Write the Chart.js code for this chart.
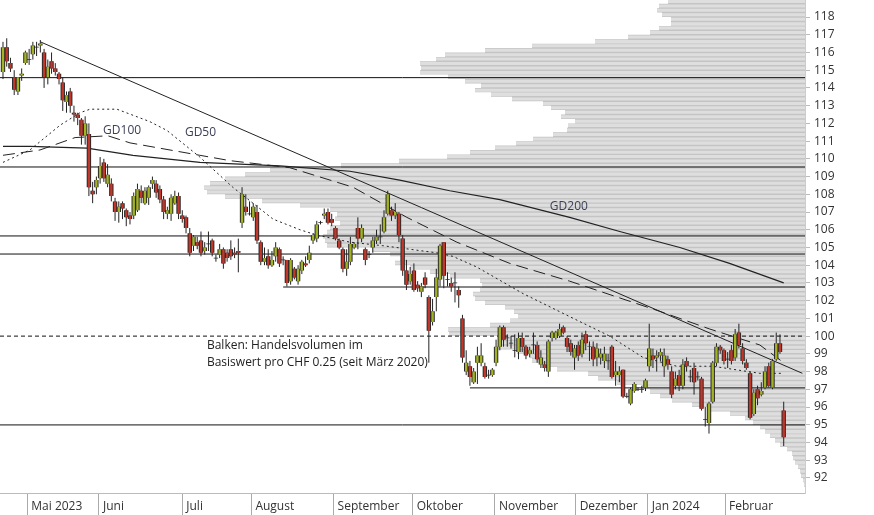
<!DOCTYPE html>
<html><head><meta charset="utf-8">
<script src="https://cdn.jsdelivr.net/npm/chart.js@4.4.1/dist/chart.umd.min.js"></script>
<style>html,body{margin:0;padding:0;background:#fff}#wrap{width:874px;height:515px}</style>
</head><body><div id="wrap"><canvas id="c" width="874" height="515"></canvas></div>
<script>
const opens=[114.9,116.3,115.4,114.6,113.8,114.7,115.4,115.6,115.9,116.3,116.4,116.0,114.6,115.5,115.1,114.8,114.3,113.2,113.8,112.6,112.5,112.2,111.3,111.4,108.2,108.4,108.9,109.8,108.6,108.6,107.6,107.0,107.5,107.1,106.8,106.8,107.1,108.2,107.5,107.8,108.6,108.6,108.3,107.7,106.9,106.9,107.5,107.9,106.8,106.7,105.8,105.1,
105.3,105.4,104.8,105.2,105.4,104.4,104.6,104.9,104.7,104.9,104.7,104.8,106.4,107.3,106.9,106.7,107.0,105.3,104.2,104.5,104.0,104.5,104.9,104.3,104.3,103.1,103.8,103.1,103.7,104.1,104.3,105.4,105.5,106.4,106.8,107.0,106.6,106.1,105.4,104.9,103.8,104.2,105.0,106.1,105.5,104.9,104.6,105.0,105.4,105.6,105.9,106.9,107.1,106.8,106.9,105.5,
103.7,103.1,103.7,102.9,102.5,103.3,102.2,100.8,102.2,103.2,105.3,103.2,103.0,103.0,102.6,101.0,98.0,98.3,97.4,98.5,98.5,98.3,97.8,97.8,98.5,99.4,100.5,99.9,99.6,99.2,99.1,99.9,99.4,99.0,99.5,99.5,98.4,98.4,98.0,99.9,99.9,100.0,100.5,99.9,99.6,98.8,99.5,99.0,100.1,99.4,99.4,98.8,
98.8,98.6,98.6,99.4,97.8,97.8,98.1,96.6,96.2,96.9,97.0,97.0,97.1,98.3,98.9,98.8,98.9,98.3,98.7,98.0,97.2,97.8,97.2,98.6,97.7,98.2,97.7,97.6,95.3,95.1,96.3,98.5,99.4,99.2,98.7,99.2,98.8,100.2,99.3,98.5,97.9,95.6,97.0,96.7,97.1,98.3,97.1,98.7,99.6,95.8];
const highs=[116.6,116.8,115.7,115.0,114.6,115.1,116.1,116.2,116.6,116.6,116.7,116.2,115.6,116.0,115.4,114.9,114.6,113.8,114.0,113.0,112.6,112.3,112.4,112.0,108.7,109.0,110.1,110.0,109.7,108.9,107.8,107.6,107.6,107.2,107.0,108.1,108.6,108.5,108.4,108.5,109.0,108.8,108.5,107.9,107.3,108.0,108.2,108.1,107.1,106.8,106.1,105.7,
105.6,105.9,105.3,105.9,105.5,104.6,105.2,105.0,104.9,105.4,105.0,105.5,108.4,108.0,107.6,107.5,107.4,105.4,105.0,104.9,104.8,105.3,105.0,104.5,104.3,104.4,103.9,104.0,104.3,104.5,105.1,105.8,106.5,106.5,107.2,107.2,106.9,106.2,105.5,105.0,104.9,105.6,105.3,106.7,106.3,105.0,104.8,105.6,106.0,106.3,107.1,108.2,107.3,107.5,107.0,105.7,
104.3,103.9,104.1,103.1,103.0,103.6,102.3,102.1,103.8,105.2,105.3,103.6,103.3,103.6,102.8,101.2,99.2,98.6,98.2,99.4,99.6,98.5,98.1,98.2,99.8,100.6,100.6,100.1,100.0,100.1,100.2,100.2,99.5,99.4,100.2,99.7,99.2,98.6,99.8,100.3,100.3,100.7,100.6,100.0,99.8,99.5,99.7,100.2,100.3,99.7,99.7,99.6,
99.3,99.4,99.0,99.5,98.6,98.3,98.1,96.8,97.1,97.4,97.1,97.2,97.6,100.7,99.3,99.2,99.3,99.3,98.9,98.3,98.0,98.1,98.7,98.8,98.1,98.5,98.0,97.7,96.0,96.3,98.6,99.6,99.5,99.3,99.1,99.5,100.4,100.7,99.6,98.7,98.0,97.0,97.2,97.4,98.3,98.5,98.7,100.2,100.1,96.3];
const lows=[114.5,115.2,114.9,113.6,113.6,114.4,115.3,115.3,115.6,115.8,116.0,114.0,114.2,114.8,114.7,114.2,112.7,112.6,112.6,112.1,111.9,110.8,110.8,107.9,107.5,108.0,108.6,108.7,108.4,107.6,106.5,106.4,106.6,106.2,106.3,106.6,107.0,107.5,107.4,107.4,108.3,107.8,107.5,106.6,106.6,106.5,107.4,106.6,106.4,105.8,104.5,104.8,
104.9,104.5,104.6,104.8,104.5,104.2,104.4,103.8,104.2,104.3,104.4,103.6,106.1,106.8,106.8,106.5,105.2,104.0,104.0,103.8,103.9,104.2,103.9,104.0,102.8,102.9,103.2,102.9,103.5,103.9,104.1,105.2,105.3,106.3,106.6,106.3,106.2,105.4,104.9,103.6,103.4,104.0,104.9,104.9,105.3,104.0,104.4,104.7,105.2,105.2,105.8,106.8,106.5,106.6,105.3,103.4,
102.6,102.9,102.5,102.5,102.2,102.7,98.5,100.6,101.4,102.8,102.7,102.8,102.5,101.9,101.6,98.5,97.8,97.2,97.3,97.3,98.3,97.6,97.6,97.7,98.3,99.2,99.4,99.4,99.3,98.8,98.7,99.1,98.7,98.8,99.0,98.5,98.2,98.0,97.7,99.7,99.8,99.9,100.1,99.1,98.9,98.1,98.6,98.8,99.2,98.6,98.3,98.3,
98.4,98.2,98.1,97.6,97.2,97.4,96.5,96.5,96.1,96.8,96.9,96.8,96.9,98.0,98.2,98.0,98.6,97.7,98.1,96.5,97.0,96.9,97.0,98.0,97.4,96.7,97.5,95.8,94.9,94.5,96.2,98.3,99.0,98.4,98.2,98.4,98.6,99.3,98.4,98.1,95.3,95.5,96.1,96.6,97.0,97.1,97.0,98.6,99.0,93.8];
const closes=[116.3,115.5,115.1,113.9,114.6,114.8,116.0,115.6,116.4,116.3,116.5,114.6,115.2,115.1,114.9,114.5,113.3,113.6,113.0,112.5,112.3,111.3,112.0,108.4,108.0,108.8,109.6,108.9,109.1,107.9,107.0,107.3,107.2,106.7,106.6,107.9,108.3,107.8,108.2,108.4,108.8,108.1,107.7,107.0,107.1,107.8,107.9,106.9,106.6,106.1,104.7,105.6,
105.1,104.7,105.0,105.2,104.7,104.4,104.9,104.1,104.4,104.5,104.6,104.7,108.0,107.0,106.9,107.3,105.4,104.2,104.4,104.0,104.3,105.0,104.1,104.3,103.0,104.3,103.3,103.8,104.2,104.0,104.7,105.7,106.3,106.4,106.9,106.4,106.4,105.5,105.0,103.8,104.2,105.2,105.2,105.5,106.1,104.3,104.6,105.4,105.6,105.6,106.7,108.0,106.8,107.0,105.7,103.7,
102.9,103.5,102.6,102.7,102.8,102.9,100.3,101.4,103.3,105.1,103.4,103.2,102.8,103.0,102.3,98.8,98.5,97.7,98.0,98.9,98.9,97.7,97.8,98.1,99.4,100.5,99.8,99.9,99.6,99.2,99.9,99.4,98.9,99.2,99.5,98.7,98.8,98.2,99.7,100.2,100.2,100.4,100.2,99.4,99.1,99.3,98.9,99.8,99.6,99.4,98.7,99.3,
99.0,99.0,98.6,97.7,98.0,98.0,96.6,96.6,97.0,97.3,97.0,97.0,97.5,99.3,98.7,98.9,99.1,98.9,98.4,96.7,97.6,97.2,98.4,98.3,97.7,97.4,97.7,95.9,95.3,96.2,98.5,99.4,99.2,98.6,98.7,98.6,100.1,99.5,98.6,98.2,95.4,96.8,96.5,96.9,98.0,97.2,98.6,99.6,99.1,94.3];

const monthPos=[6.5,25.7,48,66.5,88.5,109.7,131.7,153.3,172.6,193.3];
const monthLabels=['Mai 2023','Juni','Juli','August','September','Oktober','November','Dezember','Jan 2024','Februar'];

const profilePrices=[118.875,118.625,118.375,118.125,117.875,117.625,117.375,117.125,116.875,116.625,116.375,116.125,115.875,115.625,115.375,115.125,114.875,114.625,114.375,114.125,113.875,113.625,113.375,113.125,112.875,112.625,112.375,112.125,111.875,111.625,111.375,111.125,110.875,110.625,110.375,110.125,109.875,109.625,109.375,109.125,108.875,108.625,108.375,108.125,107.875,107.625,107.375,107.125,106.875,106.625,106.375,106.125,105.875,105.625,105.375,105.125,104.875,104.625,104.375,104.125,103.875,103.625,103.375,103.125,102.875,102.625,102.375,102.125,101.875,101.625,101.375,101.125,100.875,100.625,100.375,100.125,99.875,99.625,99.375,99.125,98.875,98.625,98.375,98.125,97.875,97.625,97.375,97.125,96.875,96.625,96.375,96.125,95.875,95.625,95.375,95.125,94.875,94.625,94.375,94.125,93.875,93.625,93.375,93.125,92.875,92.625,92.375,92.125,91.875,91.625];
const profileVolume=[137,146,148,143,134,134,146,155,177,210,273,320,360,369,385,384,385,357,340,324,330,314,293,262,254,240,244,230,237,238,252,272,289,310,335,358,406,464,535,560,580,595,601,598,580,543,505,475,468,470,465,475,478,482,480,478,433,415,405,410,395,375,355,325,323,325,332,330,320,300,291,287,295,315,357,356,305,305,307,288,275,273,262,248,217,207,188,163,155,145,133,113,97,75,60,52,45,40,35,30,25,18,13,12,10,7,5,4,2,1];

const hLevels=[114.58,109.54,105.65,104.63,102.77,97.08,94.99];
const hStart=[-0.8,-0.8,-0.8,-0.8,75,125,-0.8];
const dashLevel=100.0;

const trendIdx=[10,214];
const trendVal=[116.6,97.9];
const gd200Idx=[0,7.2,22.5,34.8,52.7,74.1,92.9,106.2,119.6,133,151.7,165.1,181.2,194.5,209];
const gd200Val=[110.7,110.7,110.6,110.2,109.8,109.6,109.3,108.8,108.2,107.7,106.7,105.9,105.0,104.1,103.0];
const gd100Idx=[0,9.9,19.3,28.1,34,42,52.7,60.7,68.8,76.8,93.7,108.1,121.5,135.7,151.7,175.8,189.2,202.6,209];
const gd100Val=[110.2,110.5,111.2,111.3,110.9,110.6,110.2,109.9,109.7,109.5,108.4,106.7,105.3,104.1,103.1,101.4,100.4,99.5,98.5];
const gd50Idx=[0,7.2,15.3,20.6,23.3,30.5,39.3,43.9,52.7,61.5,72.3,79.5,84,92.9,101.7,116.1,120.4,126.8,139.2,151.7,162.4,171.3,180.4,190,202.6,209];
const gd50Val=[109.8,110.5,111.9,112.6,112.8,112.8,112.1,111.6,110.1,108.4,106.6,106.0,105.7,105.3,105.1,104.7,104.5,103.9,102.4,101.1,100.0,98.8,98.3,98.3,97.9,97.9];

const XMIN=-0.8, XMAX=214.7, YMIN=91.15, YMAX=118.96, VMAX=805;

function seg(pairs){const d=[];pairs.forEach(p=>{d.push({x:p[0],y:p[1]});d.push({x:p[2],y:p[3]});d.push({x:p[0],y:null});});return d;}
const wick=seg(opens.map((o,i)=>[i,lows[i],i,highs[i]]));
const upB=seg(opens.map((o,i)=>closes[i]>o?[i,o,i,closes[i]]:null).filter(Boolean));
const dnB=seg(opens.map((o,i)=>closes[i]<o?[i,o,i,closes[i]]:null).filter(Boolean));
const flB=seg(opens.map((o,i)=>closes[i]===o?[i,o-0.02,i,o+0.02]:null).filter(Boolean));
const allB=upB.concat(dnB,flB);
const prof=seg(profilePrices.map((p,i)=>[0,p,profileVolume[i],p]));
const hl=seg(hLevels.map((v,i)=>[hStart[i],v,XMAX,v]));
const line=(xs,ys)=>xs.map((x,i)=>({x:x,y:ys[i]}));
const base={type:'line',pointRadius:0,borderWidth:1,spanGaps:false,tension:0,fill:false,parsing:true};
const ds=[
 Object.assign({},base,{data:prof,xAxisID:'xv',borderColor:'#c4c4c4',borderWidth:4.4,order:20}),
 Object.assign({},base,{data:prof,xAxisID:'xv',borderColor:'#dedede',borderWidth:3.0,order:19}),
 Object.assign({},base,{data:hl,borderColor:'#111',order:15}),
 Object.assign({},base,{data:[{x:XMIN,y:dashLevel},{x:XMAX,y:dashLevel}],borderColor:'#111',borderDash:[4,3],order:15}),
 Object.assign({},base,{data:line(gd200Idx,gd200Val),borderColor:'#222',borderWidth:1.2,order:14}),
 Object.assign({},base,{data:line(gd100Idx,gd100Val),borderColor:'#222',borderDash:[12,6],order:14}),
 Object.assign({},base,{data:line(gd50Idx,gd50Val),borderColor:'#222',borderDash:[2,3],order:14}),
 Object.assign({},base,{data:line(trendIdx,trendVal),borderColor:'#222',order:14}),
 Object.assign({},base,{data:wick,borderColor:'#222',order:5}),
 Object.assign({},base,{data:allB,borderColor:'#2a2a2a',borderWidth:4.4,borderCapStyle:'butt',order:4}),
 Object.assign({},base,{data:upB,borderColor:'#a3b324',borderWidth:2.4,order:3}),
 Object.assign({},base,{data:dnB,borderColor:'#c3362a',borderWidth:2.4,order:3})
];
const texts=[
 {t:'GD100',x:26.8,y:111.6},{t:'GD50',x:48.7,y:111.5},{t:'GD200',x:146.4,y:107.3},
 {t:'Balken: Handelsvolumen im',x:54.6,y:99.45},{t:'Basiswert pro CHF 0.25 (seit März 2020)',x:54.6,y:98.5}
];
const textPlugin={id:'txt',afterDatasetsDraw(ch){const c=ch.ctx,xs=ch.scales.x,ys=ch.scales.y;c.save();c.font='12px "Open Sans"';c.textBaseline='middle';texts.forEach(o=>{c.fillStyle=o.t.startsWith('GD')?'#3b3f55':'#222';c.fillText(o.t,xs.getPixelForValue(o.x),ys.getPixelForValue(o.y));});c.restore();}};
new Chart(document.getElementById('c'),{
 data:{datasets:ds},
 options:{responsive:false,animation:false,events:[],layout:{padding:0},
  plugins:{legend:{display:false},tooltip:{enabled:false}},
  scales:{
   x:{type:'linear',min:XMIN,max:XMAX,position:'bottom',
      afterBuildTicks(s){s.ticks=monthPos.map(v=>({value:v}));},
      afterFit(s){s.height=22;s.paddingLeft=0;s.paddingRight=0;},
      grid:{drawOnChartArea:false,tickLength:22,color:'#aaa'},border:{color:'#bbb'},
      ticks:{autoSkip:false,maxRotation:0,align:'start',labelOffset:4,padding:-16,color:'#333',font:{family:'Open Sans',size:12},
        callback(v,i){return monthLabels[i];}}},
   xv:{type:'linear',display:false,reverse:true,min:0,max:VMAX},
   y:{type:'linear',position:'right',min:YMIN,max:YMAX,
      afterFit(s){s.width=69;s.paddingTop=0;s.paddingBottom=0;},
      grid:{drawOnChartArea:false,tickLength:5,color:'#bbb'},border:{color:'#ccc'},
      ticks:{stepSize:1,includeBounds:false,autoSkip:false,padding:4,color:'#333',font:{family:'Open Sans',size:12}}}
  }},
 plugins:[textPlugin]
});
</script></body></html>
